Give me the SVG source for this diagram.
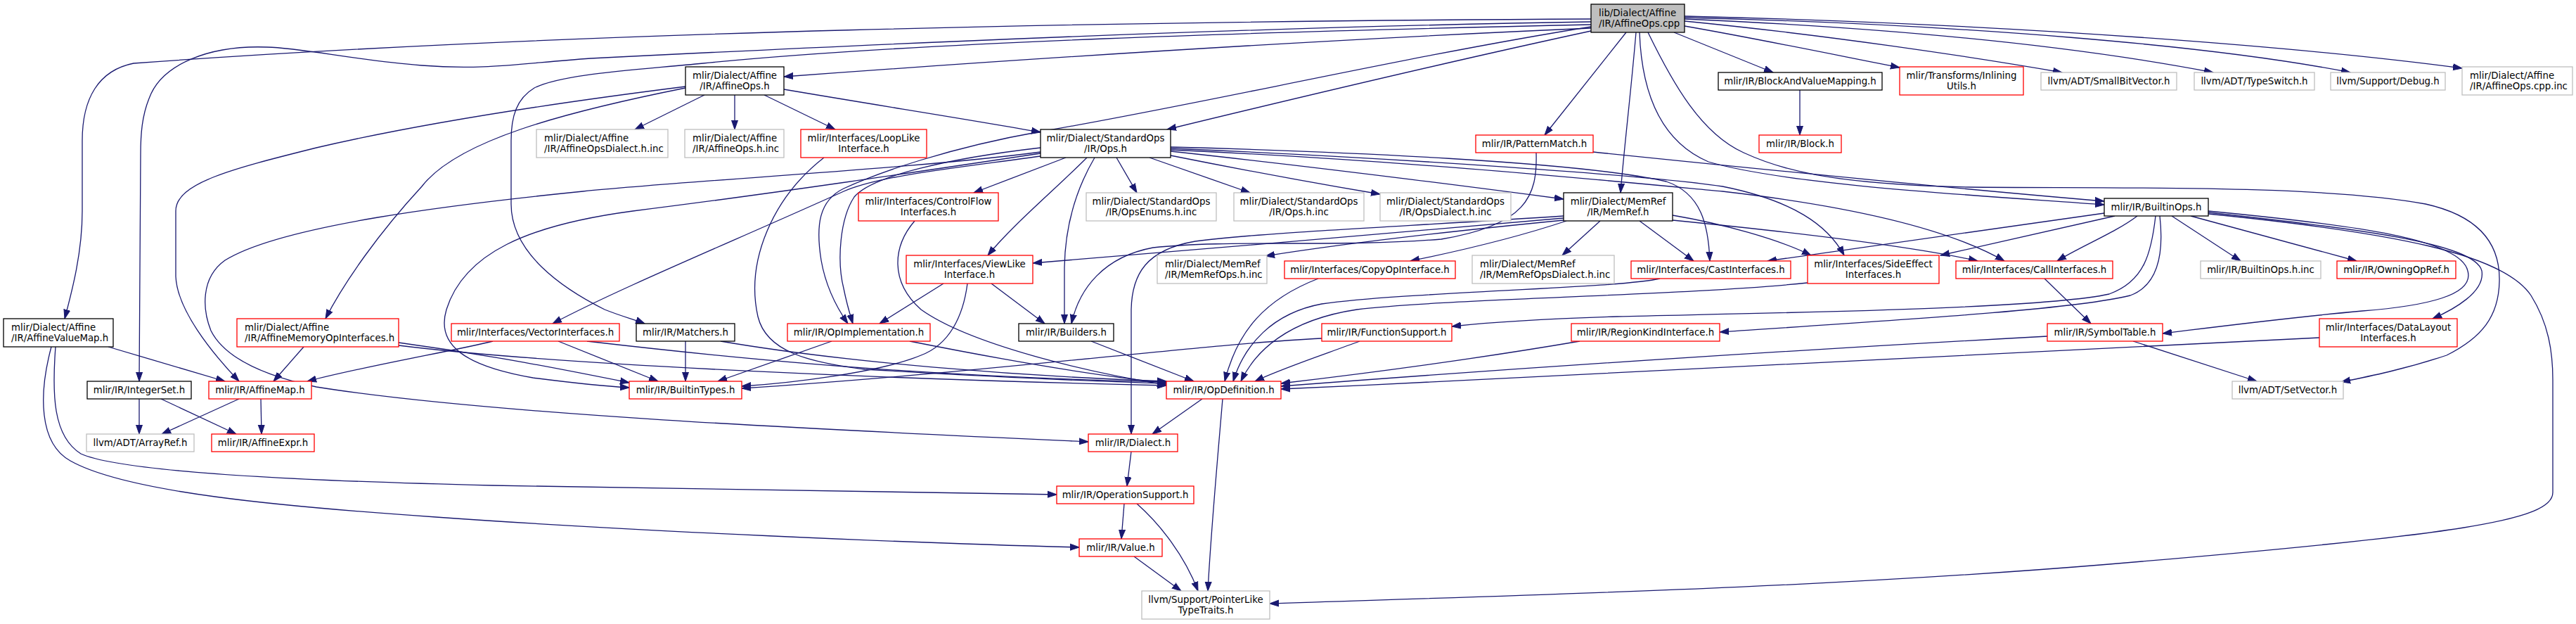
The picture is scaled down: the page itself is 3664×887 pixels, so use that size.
<svg xmlns="http://www.w3.org/2000/svg" width="3664" height="887" viewBox="0 0 3664 887">
<defs>
<style>
.node rect{fill:#fff;stroke-width:1.3}
.k rect{stroke:#000}
.r rect{stroke:#ff0000}
.g rect{stroke:#bfbfbf}
.c rect{stroke:#000;fill:#bfbfbf}
text{font-family:"DejaVu Sans","Liberation Sans",sans-serif;font-size:13.33px;fill:#000}
.m{text-anchor:middle}
#edges path{fill:none;stroke:#191970;stroke-width:1.3;marker-end:url(#ah)}
</style>
<marker id="ah" markerUnits="userSpaceOnUse" markerWidth="14" markerHeight="12" viewBox="0 0 14 12" refX="13" refY="6" orient="auto"><path d="M0,1.5 L13,6 L0,10.5 z" fill="#191970" stroke="#191970" stroke-width="1"/></marker>
</defs>
<rect width="3664" height="887" fill="#fff"/>
<g id="edges">
<path d="M2263,40 C1800,60 1400,88 1115,109"/>
<path d="M2263,27 C1600,30 800,45 190,90 C140,100 117,140 117,200 L117,300 C117,360 102,415 92,453"/>
<path d="M2263,31 C1700,40 1100,70 840,83 C740,90 690,100 600,93 C500,85 430,68 380,67 C300,64 230,90 212,140 C202,165 200,190 200,220 L198,542"/>
<path d="M2263,35 C1800,45 1300,60 1000,90 C900,100 800,105 760,125 C735,140 727,165 727,200 L727,290 C727,360 800,410 860,440 C885,450 905,455 917,460"/>
<path d="M2263,44 C2050,90 1800,150 1660,184"/>
<path d="M2263,38 C2000,80 1700,150 1480,187 C1350,210 1250,245 1200,268 C1165,285 1160,320 1168,370 C1175,410 1192,440 1206,460"/>
<path d="M1480,210 C1350,225 1240,250 1215,280 C1195,310 1190,370 1200,410 C1205,435 1210,450 1213,460"/>
<path d="M2313,46 L2197,192"/>
<path d="M2327,46 C2320,130 2310,210 2305,274"/>
<path d="M2332,46 C2335,130 2360,200 2430,230 C2550,265 2850,280 2993,291"/>
<path d="M2344,46 C2380,120 2420,190 2480,217 C2530,240 2600,262 2800,266 C3000,268 3300,262 3450,290 C3540,310 3556,360 3555,400 C3554,450 3530,480 3480,505 C3420,525 3370,535 3330,543"/>
<path d="M2381,46 L2522,103"/>
<path d="M2396,37 C2500,55 2620,80 2702,96"/>
<path d="M2396,30 C2600,50 2800,80 2933,103"/>
<path d="M2396,27 C2700,40 2950,65 3148,103"/>
<path d="M2396,25 C2800,35 3150,65 3343,103"/>
<path d="M2396,23 C2900,35 3300,70 3502,97"/>
<path d="M1002,135 L903,184"/>
<path d="M1045,135 L1045,184"/>
<path d="M1087,135 L1188,184"/>
<path d="M1115,127 C1250,150 1380,170 1480,188"/>
<path d="M975,123 C800,145 600,175 450,210 C330,240 250,260 250,300 L250,393 C252,440 300,500 340,542"/>
<path d="M975,125 C800,160 650,200 600,265 C540,330 490,400 463,453"/>
<path d="M1516,224 L1385,274"/>
<path d="M1588,224 L1617,274"/>
<path d="M1635,224 L1778,274"/>
<path d="M1665,221 C1760,240 1880,262 1963,276"/>
<path d="M1665,215 C1850,235 2050,260 2224,283"/>
<path d="M1546,224 C1500,270 1440,320 1405,363"/>
<path d="M1557,224 C1530,270 1515,320 1514,380 L1514,460"/>
<path d="M1480,216 C1300,240 1000,255 829,272 C650,290 400,320 320,370 C285,395 288,440 300,470 C320,510 380,535 450,550 C700,590 1200,612 1548,628"/>
<path d="M1480,218 C1300,245 1100,275 900,300 C750,320 660,360 635,440 C620,490 660,520 758,537 C820,545 860,549 895,551"/>
<path d="M1480,222 C1350,240 1250,250 1200,272 C1050,340 880,410 786,460"/>
<path d="M1665,209 C1900,215 2250,230 2370,258 C2420,275 2430,320 2432,371"/>
<path d="M1665,211 C2000,225 2350,250 2450,265 C2550,285 2600,320 2623,363"/>
<path d="M1665,213 C2000,228 2300,258 2450,272 C2650,295 2780,330 2851,371"/>
<path d="M2266,216 C2500,240 2800,270 2993,286"/>
<path d="M2185,217 C2187,280 2170,320 2050,340 C1900,352 1750,340 1640,352 C1570,365 1535,410 1524,460"/>
<path d="M2560,128 L2560,192"/>
<path d="M2224,307 C2000,322 1800,330 1700,343 C1630,355 1610,390 1609,440 L1609,617"/>
<path d="M2224,310 C2000,330 1700,355 1469,374"/>
<path d="M2224,313 C2050,330 1900,348 1800,364"/>
<path d="M2228,314 C2150,340 2060,360 2006,371"/>
<path d="M2276,314 L2222,363"/>
<path d="M2332,314 L2409,371"/>
<path d="M2379,306 C2450,318 2530,340 2576,363"/>
<path d="M2379,313 C2550,330 2720,350 2813,371"/>
<path d="M1301,314 C1270,350 1265,400 1310,440 C1380,490 1550,530 1659,547"/>
<path d="M1172,224 C1100,280 1060,370 1078,450 C1090,500 1150,515 1230,525 C1400,535 1550,542 1659,545"/>
<path d="M1342,403 L1251,460"/>
<path d="M1410,403 L1486,460"/>
<path d="M1376,403 C1370,450 1350,490 1310,505 C1250,530 1120,545 1055,549"/>
<path d="M701,485 C650,498 520,520 437,542"/>
<path d="M794,485 L936,542"/>
<path d="M835,485 C1050,510 1300,535 1659,543"/>
<path d="M975,485 L975,542"/>
<path d="M1025,485 C1200,515 1450,535 1659,542"/>
<path d="M1183,485 L1021,542"/>
<path d="M1294,485 C1420,510 1560,535 1659,544"/>
<path d="M432,493 L389,542"/>
<path d="M567,487 C700,505 800,525 895,544"/>
<path d="M567,491 C800,520 1300,540 1659,548"/>
<path d="M1552,485 L1698,542"/>
<path d="M1875,396 C1800,425 1760,470 1742,542"/>
<path d="M2361,396 C2300,410 2000,415 1880,432 C1810,445 1770,490 1754,542"/>
<path d="M2571,402 C2400,420 2050,425 1930,440 C1830,455 1785,500 1765,542"/>
<path d="M1934,485 C1880,505 1820,525 1785,542"/>
<path d="M1880,481 C1700,490 1400,530 1055,552"/>
<path d="M2247,485 C2100,510 1950,530 1822,545"/>
<path d="M2912,478 C2600,495 2200,520 1822,549"/>
<path d="M3034,485 L3210,542"/>
<path d="M3299,480 C3000,498 2400,527 1822,553"/>
<path d="M2908,396 L2974,460"/>
<path d="M2993,303 L2514,371"/>
<path d="M3008,307 L2760,363"/>
<path d="M3040,307 C3010,330 2960,350 2926,371"/>
<path d="M3089,307 L3187,371"/>
<path d="M3116,307 L3352,371"/>
<path d="M3066,307 C3060,360 3050,400 3000,418 C2900,440 2500,445 2300,450 C2200,453 2120,458 2065,464"/>
<path d="M3072,307 C3078,360 3070,405 3030,420 C2950,440 2700,455 2446,472"/>
<path d="M3141,300 C3350,320 3500,340 3510,385 C3520,420 3450,435 3360,442 C3250,452 3150,465 3076,474"/>
<path d="M3141,302 C3350,325 3520,345 3530,385 C3535,415 3490,440 3460,453"/>
<path d="M3141,304 C3400,330 3560,360 3600,420 C3625,460 3631,500 3631,540 L3631,700 C3631,740 3500,760 3000,802 C2600,835 2200,845 1806,858"/>
<path d="M1710,567 L1639,617"/>
<path d="M1739,567 C1732,650 1722,760 1718,840"/>
<path d="M1609,642 L1603,691"/>
<path d="M1599,716 L1595,766"/>
<path d="M1617,716 C1650,745 1685,790 1704,840"/>
<path d="M1613,791 L1680,840"/>
<path d="M154,493 L320,542"/>
<path d="M79,493 C74,560 75,620 115,645 C170,670 400,683 700,690 C1000,696 1300,700 1503,703"/>
<path d="M73,493 C55,560 55,630 100,655 C180,700 400,720 620,735 C900,755 1300,772 1535,778"/>
<path d="M198,567 L198,617"/>
<path d="M229,567 L336,617"/>
<path d="M340,567 L230,617"/>
<path d="M371,567 L372,617"/>
</g>
<g id="n1" class="node c"><rect x="2263" y="6" width="133" height="40"/><text x="2274" y="22.5">lib/Dialect/Affine</text><text x="2274" y="37.5">/IR/AffineOps.cpp</text></g>
<g id="n2" class="node k"><rect x="975" y="95" width="140" height="40"/><text class="m" x="1045" y="111.5">mlir/Dialect/Affine</text><text class="m" x="1045" y="126.5">/IR/AffineOps.h</text></g>
<g id="n3" class="node g"><rect x="763" y="184" width="187" height="40"/><text x="774" y="200.5">mlir/Dialect/Affine</text><text x="774" y="215.5">/IR/AffineOpsDialect.h.inc</text></g>
<g id="n4" class="node g"><rect x="974" y="184" width="141" height="40"/><text x="985" y="200.5">mlir/Dialect/Affine</text><text x="985" y="215.5">/IR/AffineOps.h.inc</text></g>
<g id="n5" class="node r"><rect x="1139" y="184" width="179" height="40"/><text class="m" x="1228.5" y="200.5">mlir/Interfaces/LoopLike</text><text class="m" x="1228.5" y="215.5">Interface.h</text></g>
<g id="n6" class="node k"><rect x="1480" y="184" width="185" height="40"/><text class="m" x="1572.5" y="200.5">mlir/Dialect/StandardOps</text><text class="m" x="1572.5" y="215.5">/IR/Ops.h</text></g>
<g id="n7" class="node r"><rect x="2099" y="192" width="167" height="25"/><text class="m" x="2182.5" y="209">mlir/IR/PatternMatch.h</text></g>
<g id="n8" class="node k"><rect x="2444" y="103" width="233" height="25"/><text class="m" x="2560.5" y="120">mlir/IR/BlockAndValueMapping.h</text></g>
<g id="n9" class="node r"><rect x="2702" y="95" width="176" height="40"/><text class="m" x="2790" y="111.5">mlir/Transforms/Inlining</text><text class="m" x="2790" y="126.5">Utils.h</text></g>
<g id="n10" class="node g"><rect x="2903" y="103" width="193" height="25"/><text class="m" x="2999.5" y="120">llvm/ADT/SmallBitVector.h</text></g>
<g id="n11" class="node g"><rect x="3121" y="103" width="171" height="25"/><text class="m" x="3206.5" y="120">llvm/ADT/TypeSwitch.h</text></g>
<g id="n12" class="node g"><rect x="3315" y="103" width="163" height="25"/><text class="m" x="3396.5" y="120">llvm/Support/Debug.h</text></g>
<g id="n13" class="node g"><rect x="3502" y="95" width="157" height="40"/><text x="3513" y="111.5">mlir/Dialect/Affine</text><text x="3513" y="126.5">/IR/AffineOps.cpp.inc</text></g>
<g id="n14" class="node r"><rect x="2502" y="192" width="117" height="25"/><text class="m" x="2560.5" y="209">mlir/IR/Block.h</text></g>
<g id="n15" class="node k"><rect x="2993" y="282" width="148" height="25"/><text class="m" x="3067" y="299">mlir/IR/BuiltinOps.h</text></g>
<g id="n16" class="node g"><rect x="1545" y="274" width="185" height="40"/><text class="m" x="1637.5" y="290.5">mlir/Dialect/StandardOps</text><text class="m" x="1637.5" y="305.5">/IR/OpsEnums.h.inc</text></g>
<g id="n17" class="node g"><rect x="1755" y="274" width="185" height="40"/><text class="m" x="1847.5" y="290.5">mlir/Dialect/StandardOps</text><text class="m" x="1847.5" y="305.5">/IR/Ops.h.inc</text></g>
<g id="n18" class="node g"><rect x="1963" y="274" width="186" height="40"/><text class="m" x="2056" y="290.5">mlir/Dialect/StandardOps</text><text class="m" x="2056" y="305.5">/IR/OpsDialect.h.inc</text></g>
<g id="n19" class="node k"><rect x="2224" y="274" width="155" height="40"/><text class="m" x="2301.5" y="290.5">mlir/Dialect/MemRef</text><text class="m" x="2301.5" y="305.5">/IR/MemRef.h</text></g>
<g id="n20" class="node r"><rect x="1221" y="274" width="199" height="40"/><text class="m" x="1320.5" y="290.5">mlir/Interfaces/ControlFlow</text><text class="m" x="1320.5" y="305.5">Interfaces.h</text></g>
<g id="n21" class="node r"><rect x="1289" y="363" width="180" height="40"/><text class="m" x="1379" y="379.5">mlir/Interfaces/ViewLike</text><text class="m" x="1379" y="394.5">Interface.h</text></g>
<g id="n22" class="node g"><rect x="1646" y="363" width="156" height="40"/><text x="1657" y="379.5">mlir/Dialect/MemRef</text><text x="1657" y="394.5">/IR/MemRefOps.h.inc</text></g>
<g id="n23" class="node r"><rect x="1827" y="371" width="243" height="25"/><text class="m" x="1948.5" y="388">mlir/Interfaces/CopyOpInterface.h</text></g>
<g id="n24" class="node g"><rect x="2094" y="363" width="202" height="40"/><text x="2105" y="379.5">mlir/Dialect/MemRef</text><text x="2105" y="394.5">/IR/MemRefOpsDialect.h.inc</text></g>
<g id="n25" class="node r"><rect x="2320" y="371" width="227" height="25"/><text class="m" x="2433.5" y="388">mlir/Interfaces/CastInterfaces.h</text></g>
<g id="n26" class="node r"><rect x="2571" y="363" width="187" height="40"/><text class="m" x="2664.5" y="379.5">mlir/Interfaces/SideEffect</text><text class="m" x="2664.5" y="394.5">Interfaces.h</text></g>
<g id="n27" class="node r"><rect x="2782" y="371" width="223" height="25"/><text class="m" x="2893.5" y="388">mlir/Interfaces/CallInterfaces.h</text></g>
<g id="n28" class="node g"><rect x="3130" y="371" width="171" height="25"/><text class="m" x="3215.5" y="388">mlir/IR/BuiltinOps.h.inc</text></g>
<g id="n29" class="node r"><rect x="3324" y="371" width="169" height="25"/><text class="m" x="3408.5" y="388">mlir/IR/OwningOpRef.h</text></g>
<g id="n30" class="node k"><rect x="5" y="453" width="156" height="40"/><text x="16" y="469.5">mlir/Dialect/Affine</text><text x="16" y="484.5">/IR/AffineValueMap.h</text></g>
<g id="n31" class="node r"><rect x="337" y="453" width="230" height="40"/><text x="348" y="469.5">mlir/Dialect/Affine</text><text x="348" y="484.5">/IR/AffineMemoryOpInterfaces.h</text></g>
<g id="n32" class="node r"><rect x="642" y="460" width="239" height="25"/><text class="m" x="761.5" y="477">mlir/Interfaces/VectorInterfaces.h</text></g>
<g id="n33" class="node k"><rect x="905" y="460" width="140" height="25"/><text class="m" x="975" y="477">mlir/IR/Matchers.h</text></g>
<g id="n34" class="node r"><rect x="1120" y="460" width="203" height="25"/><text class="m" x="1221.5" y="477">mlir/IR/OpImplementation.h</text></g>
<g id="n35" class="node k"><rect x="1449" y="460" width="135" height="25"/><text class="m" x="1516.5" y="477">mlir/IR/Builders.h</text></g>
<g id="n36" class="node r"><rect x="1880" y="460" width="185" height="25"/><text class="m" x="1972.5" y="477">mlir/IR/FunctionSupport.h</text></g>
<g id="n37" class="node r"><rect x="2235" y="460" width="211" height="25"/><text class="m" x="2340.5" y="477">mlir/IR/RegionKindInterface.h</text></g>
<g id="n38" class="node r"><rect x="2912" y="460" width="164" height="25"/><text class="m" x="2994" y="477">mlir/IR/SymbolTable.h</text></g>
<g id="n39" class="node r"><rect x="3299" y="453" width="196" height="40"/><text class="m" x="3397" y="469.5">mlir/Interfaces/DataLayout</text><text class="m" x="3397" y="484.5">Interfaces.h</text></g>
<g id="n40" class="node k"><rect x="124" y="542" width="148" height="25"/><text class="m" x="198" y="559">mlir/IR/IntegerSet.h</text></g>
<g id="n41" class="node r"><rect x="297" y="542" width="146" height="25"/><text class="m" x="370" y="559">mlir/IR/AffineMap.h</text></g>
<g id="n42" class="node r"><rect x="895" y="542" width="160" height="25"/><text class="m" x="975" y="559">mlir/IR/BuiltinTypes.h</text></g>
<g id="n43" class="node r"><rect x="1659" y="542" width="163" height="25"/><text class="m" x="1740.5" y="559">mlir/IR/OpDefinition.h</text></g>
<g id="n44" class="node g"><rect x="3175" y="542" width="158" height="25"/><text class="m" x="3254" y="559">llvm/ADT/SetVector.h</text></g>
<g id="n45" class="node g"><rect x="123" y="617" width="153" height="25"/><text class="m" x="199.5" y="634">llvm/ADT/ArrayRef.h</text></g>
<g id="n46" class="node r"><rect x="301" y="617" width="146" height="25"/><text class="m" x="374" y="634">mlir/IR/AffineExpr.h</text></g>
<g id="n47" class="node r"><rect x="1548" y="617" width="127" height="25"/><text class="m" x="1611.5" y="634">mlir/IR/Dialect.h</text></g>
<g id="n48" class="node r"><rect x="1503" y="691" width="195" height="25"/><text class="m" x="1600.5" y="708">mlir/IR/OperationSupport.h</text></g>
<g id="n49" class="node r"><rect x="1535" y="766" width="118" height="25"/><text class="m" x="1594" y="783">mlir/IR/Value.h</text></g>
<g id="n50" class="node g"><rect x="1624" y="840" width="182" height="40"/><text class="m" x="1715" y="856.5">llvm/Support/PointerLike</text><text class="m" x="1715" y="871.5">TypeTraits.h</text></g>
</svg>
